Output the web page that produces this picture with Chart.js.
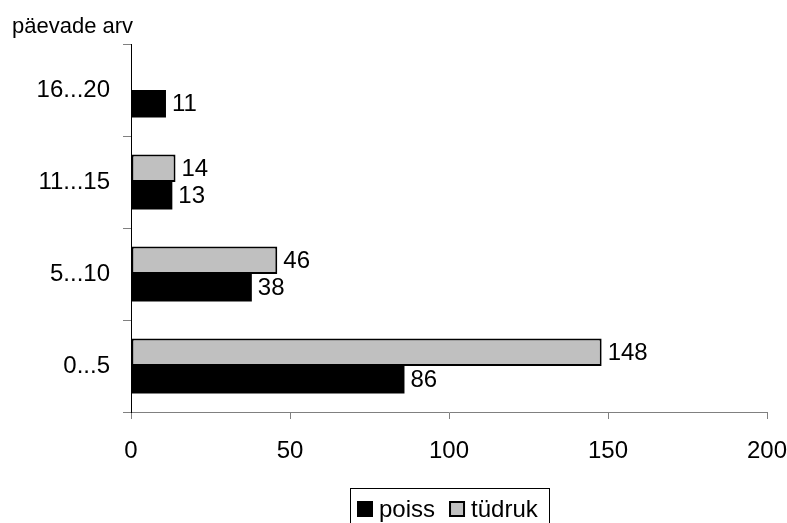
<!DOCTYPE html>
<html>
<head>
<meta charset="utf-8">
<script src="https://cdn.jsdelivr.net/npm/chart.js@4/dist/chart.umd.min.js"></script>
<style>
  html, body { margin: 0; padding: 0; background: #fff; }
  #wrap { width: 787px; height: 523px; position: relative; overflow: hidden; }
</style>
</head>
<body>
<div id="wrap"><canvas id="c" width="787" height="523"></canvas></div>
<script>
// Categories listed from the top of the chart to the bottom
const categories = ['16...20', '11...15', '5...10', '0...5'];
const poiss = [11, 13, 38, 86];
const tudruk = [null, 14, 46, 148];
const seriesNames = ['poiss', 'tüdruk'];
const xTicks = [0, 50, 100, 150, 200];
const axisTitle = 'päevade arv';

const FONT = '"Liberation Sans", Arial, Helvetica, sans-serif';
const seriesStyle = {
  'poiss': { fill: '#000000', border: '#000000', borderWidth: 0 },
  'tüdruk': { fill: '#c0c0c0', border: '#000000', borderWidth: 2 }
};

// Number next to the end of each bar
const valueLabels = {
  id: 'valueLabels',
  afterDatasetsDraw(chart) {
    const ctx = chart.ctx;
    ctx.save();
    ctx.font = '24px ' + FONT;
    ctx.fillStyle = '#000';
    ctx.textAlign = 'left';
    ctx.textBaseline = 'middle';
    chart.data.datasets.forEach((ds, i) => {
      const meta = chart.getDatasetMeta(i);
      meta.data.forEach((bar, j) => {
        const v = ds.data[j];
        if (v == null) return;
        ctx.fillText(String(v), bar.x + 6, bar.y + 1);
      });
    });
    ctx.restore();
  }
};

// Axis caption above the category axis
const axisCaption = {
  id: 'axisCaption',
  afterDraw(chart) {
    const ctx = chart.ctx;
    ctx.save();
    ctx.font = '22px ' + FONT;
    ctx.fillStyle = '#000';
    ctx.textAlign = 'left';
    ctx.textBaseline = 'alphabetic';
    ctx.fillText(axisTitle, 12, 33);
    ctx.restore();
  }
};

// Boxed legend below the value axis
const boxedLegend = {
  id: 'boxedLegend',
  afterDraw(chart) {
    const ctx = chart.ctx;
    ctx.save();
    ctx.font = '24px ' + FONT;
    const box = 16, gapText = 6, gapItem = 14, padL = 7, padR = 11;
    const widths = seriesNames.map(n => ctx.measureText(n).width);
    let total = padL + padR + gapItem * (seriesNames.length - 1);
    widths.forEach(w => { total += box + gapText + w; });
    const cx = (chart.chartArea.left + chart.chartArea.right) / 2;
    const left = Math.round(cx - total / 2);
    const top = 488;
    ctx.strokeStyle = '#000';
    ctx.lineWidth = 1;
    ctx.strokeRect(left + 0.5, top + 0.5, Math.round(total), 44);
    let x = left + padL;
    const midY = top + 21;
    seriesNames.forEach((n, i) => {
      const st = seriesStyle[n];
      ctx.fillStyle = st.fill;
      ctx.fillRect(x, midY - box / 2, box, box);
      if (st.borderWidth) {
        ctx.strokeStyle = st.border;
        ctx.lineWidth = 2;
        ctx.strokeRect(x + 1, midY - box / 2 + 1, box - 2, box - 2);
      }
      x += box + gapText;
      ctx.fillStyle = '#000';
      ctx.textAlign = 'left';
      ctx.textBaseline = 'middle';
      ctx.fillText(n, x, midY + 1);
      x += widths[i] + gapItem;
    });
    ctx.restore();
  }
};

const datasets = [
  {
    label: seriesNames[1],
    data: tudruk,
    backgroundColor: seriesStyle['tüdruk'].fill,
    borderColor: seriesStyle['tüdruk'].border,
    borderWidth: seriesStyle['tüdruk'].borderWidth,
    borderSkipped: false
  },
  {
    label: seriesNames[0],
    data: poiss,
    backgroundColor: seriesStyle['poiss'].fill,
    borderColor: seriesStyle['poiss'].border,
    borderWidth: 0,
    borderSkipped: false
  }
];

new Chart(document.getElementById('c'), {
  type: 'bar',
  data: { labels: categories, datasets },
  plugins: [valueLabels, axisCaption, boxedLegend],
  options: {
    indexAxis: 'y',
    responsive: false,
    animation: false,
    devicePixelRatio: 1,
    categoryPercentage: 0.6,
    barPercentage: 1.0,
    layout: { padding: { top: 44, right: 20, left: 0, bottom: 0 } },
    plugins: { legend: { display: false }, tooltip: { enabled: false }, title: { display: false } },
    scales: {
      x: {
        min: 0,
        max: 200,
        afterBuildTicks: s => { s.ticks = xTicks.map(v => ({ value: v })); },
        afterFit: s => { s.height = 111; s.paddingLeft = 0; s.paddingRight = 0; },
        grid: { drawOnChartArea: false, drawTicks: true, tickLength: 7, color: '#808080' },
        border: { color: '#808080', width: 1 },
        ticks: { font: { size: 24, family: FONT }, color: '#000', padding: 18, maxRotation: 0 }
      },
      y: {
        type: 'category',
        offset: true,
        afterFit: s => { s.width = 131; s.paddingTop = 0; s.paddingBottom = 0; },
        grid: { offset: true, drawOnChartArea: false, drawTicks: true, tickLength: 8, color: '#808080' },
        border: { color: '#000', width: 1 },
        ticks: { font: { size: 24, family: FONT }, color: '#000', padding: 13 }
      }
    }
  }
});
</script>
</body>
</html>
